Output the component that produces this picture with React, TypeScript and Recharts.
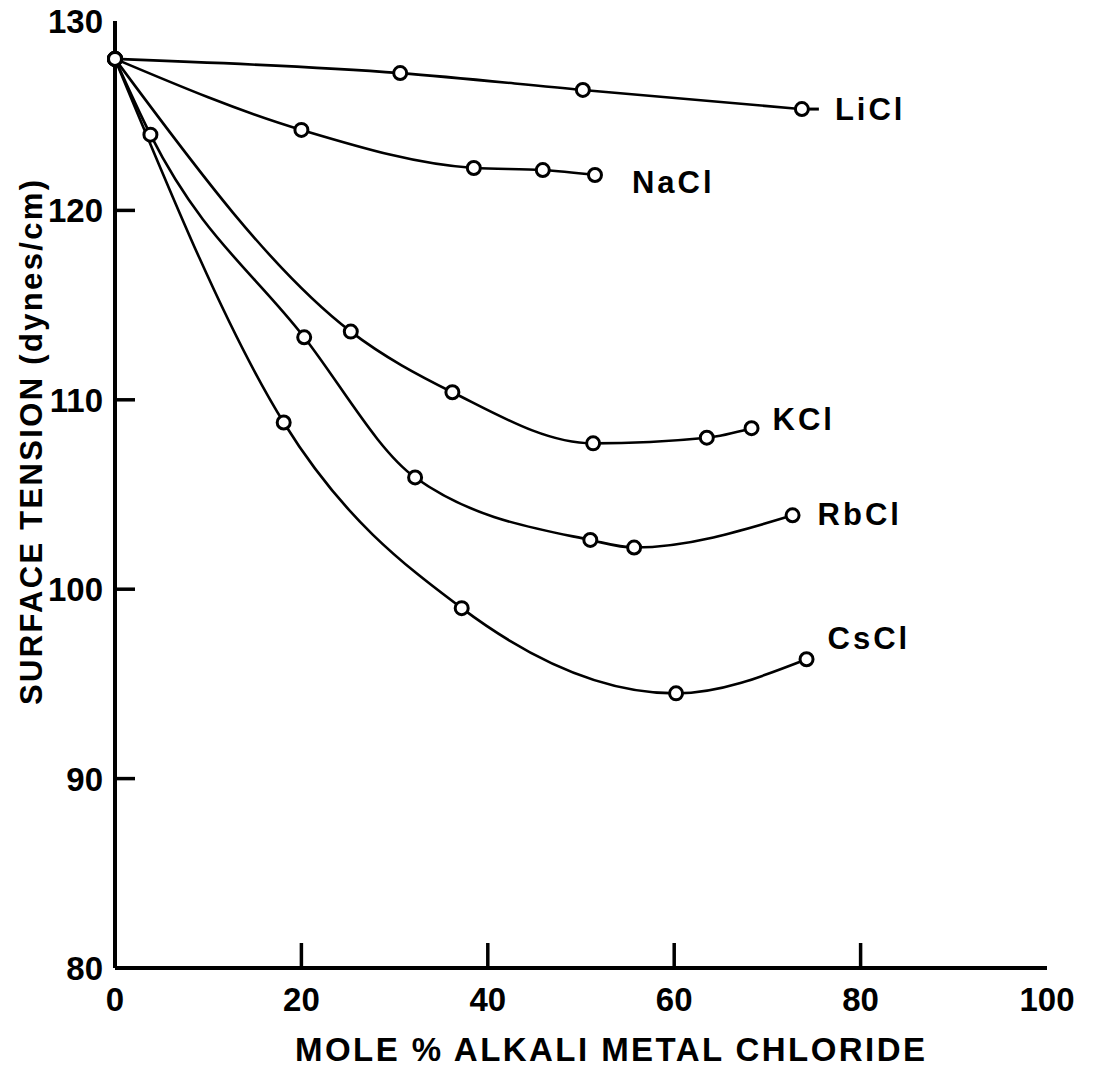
import { LineChart, Line, XAxis, YAxis, Label, LabelList } from 'recharts'

// mole % alkali metal chloride vs surface tension (dynes/cm)
const liclX = [0, 30.6, 50.2, 73.7]
const liclY = [128, 127.25, 126.36, 125.35]
const naclX = [0, 20.0, 38.5, 45.9, 51.5]
const naclY = [128, 124.25, 122.24, 122.13, 121.87]
const kclX = [0, 25.3, 36.2, 51.3, 63.5, 68.3]
const kclY = [128, 113.6, 110.4, 107.7, 108.0, 108.5]
const rbclX = [0, 3.8, 20.3, 32.2, 51.0, 55.7, 72.7]
const rbclY = [128, 124.0, 113.3, 105.9, 102.6, 102.2, 103.9]
const csclX = [0, 18.1, 37.2, 60.2, 74.2]
const csclY = [128, 108.8, 99.0, 94.5, 96.3]

const xTicks = [0, 20, 40, 60, 80, 100]
const yTicks = [80, 90, 100, 110, 120, 130]

const FONT = '"Liberation Sans", Arial, sans-serif'

const toPoints = (xs: number[], ys: number[]) => xs.map((x, i) => ({ x, y: ys[i] }))

const SERIES = [
  { name: 'LiCl', data: toPoints(liclX, liclY), dx: 33, dy: 0, stub: true },
  { name: 'NaCl', data: toPoints(naclX, naclY), dx: 37, dy: 7, stub: false },
  { name: 'KCl', data: toPoints(kclX, kclY), dx: 21, dy: -9, stub: false },
  { name: 'RbCl', data: toPoints(rbclX, rbclY), dx: 25, dy: -1, stub: false },
  { name: 'CsCl', data: toPoints(csclX, csclY), dx: 21, dy: -21, stub: false },
]

const LeftTick = (props: any) => {
  const { x, y, payload } = props
  const axisX = x + 12
  const v = payload.value
  return (
    <g>
      <text x={x} y={y + 12} textAnchor="end" fontFamily={FONT} fontWeight="bold" fontSize={33} fill="#000">
        {v}
      </text>
      {v !== 80 && v !== 130 && <line x1={axisX} y1={y} x2={axisX + 20} y2={y} stroke="#000" strokeWidth={3.5} />}
    </g>
  )
}

const RightTick = (props: any) => {
  const { x, y, payload } = props
  const v = payload.value
  if (v === 80 || v === 130) return null
  return <line x1={x} y1={y} x2={x - 20} y2={y} stroke="#000" strokeWidth={3.5} />
}

const BottomTick = (props: any) => {
  const { x, y, payload } = props
  const axisY = y - 18
  const v = payload.value
  return (
    <g>
      <text x={x} y={axisY + 43} textAnchor="middle" fontFamily={FONT} fontWeight="bold" fontSize={33} fill="#000">
        {v}
      </text>
      {v !== 0 && v !== 100 && <line x1={x} y1={axisY} x2={x} y2={axisY - 25} stroke="#000" strokeWidth={3.5} />}
    </g>
  )
}

const TopTick = (props: any) => {
  const { x, y, payload } = props
  const v = payload.value
  if (v === 0 || v === 100) return null
  return <line x1={x} y1={y} x2={x} y2={y + 22} stroke="#000" strokeWidth={3.5} />
}

function seriesLabel(name: string, last: number, dx: number, dy: number, stub: boolean) {
  return (props: any) => {
    if (props.index !== last) return null
    const { x, y } = props
    return (
      <g>
        {stub && <line x1={x + 6} y1={y} x2={x + 17} y2={y} stroke="#000" strokeWidth={3} />}
        <text
          x={x + dx}
          y={y + dy + 11}
          fontFamily={FONT}
          fontWeight="bold"
          fontSize={31}
          letterSpacing={3}
          fill="#000"
        >
          {name}
        </text>
      </g>
    )
  }
}

export default function App() {
  return (
    <div style={{ position: 'absolute', left: 0, top: 0, width: 1094, height: 1072, background: '#fff' }}>
      <LineChart width={1094} height={1072} margin={{ top: 21, right: 47, bottom: 54, left: 15 }}>
        <XAxis
          xAxisId="b"
          dataKey="x"
          type="number"
          domain={[0, 100]}
          ticks={xTicks}
          orientation="bottom"
          height={50}
          tickSize={0}
          tickMargin={18}
          tickLine={false}
          tick={<BottomTick />}
          axisLine={{ stroke: '#000', strokeWidth: 4 }}
        >
          <Label
            content={() => (
              <text
                x={295}
                y={1061}
                textLength={630}
                lengthAdjust="spacing"
                fontFamily={FONT}
                fontWeight="bold"
                fontSize={33}
                fill="#000"
              >
                MOLE % ALKALI METAL CHLORIDE
              </text>
            )}
          />
        </XAxis>
        <XAxis
          xAxisId="t"
          dataKey="x"
          type="number"
          domain={[0, 100]}
          ticks={xTicks}
          orientation="top"
          height={0}
          tickSize={0}
          tickMargin={0}
          tickLine={false}
          tick={<TopTick />}
          axisLine={{ stroke: '#000', strokeWidth: 4 }}
        />
        <YAxis
          yAxisId="l"
          type="number"
          domain={[80, 130]}
          ticks={yTicks}
          width={100}
          tickSize={0}
          tickMargin={12}
          tickLine={false}
          tick={<LeftTick />}
          axisLine={{ stroke: '#000', strokeWidth: 4 }}
        >
          <Label
            content={() => (
              <text
                x={0}
                y={0}
                transform="translate(42 705) rotate(-90)"
                textLength={525}
                lengthAdjust="spacing"
                fontFamily={FONT}
                fontWeight="bold"
                fontSize={31}
                fill="#000"
              >
                SURFACE TENSION (dynes/cm)
              </text>
            )}
          />
        </YAxis>
        <YAxis
          yAxisId="r"
          orientation="right"
          type="number"
          domain={[80, 130]}
          ticks={yTicks}
          width={0}
          tickSize={0}
          tickMargin={0}
          tickLine={false}
          tick={<RightTick />}
          axisLine={{ stroke: '#000', strokeWidth: 4 }}
        />
        {SERIES.map((s) => (
          <Line
            key={s.name}
            xAxisId="b"
            yAxisId="l"
            data={s.data}
            dataKey="y"
            type="monotone"
            stroke="#000"
            strokeWidth={2.6}
            dot={{ r: 6.5, fill: '#fff', stroke: '#000', strokeWidth: 3 }}
            activeDot={false}
            isAnimationActive={false}
          >
            <LabelList dataKey="y" content={seriesLabel(s.name, s.data.length - 1, s.dx, s.dy, s.stub)} />
          </Line>
        ))}
      </LineChart>
    </div>
  )
}
